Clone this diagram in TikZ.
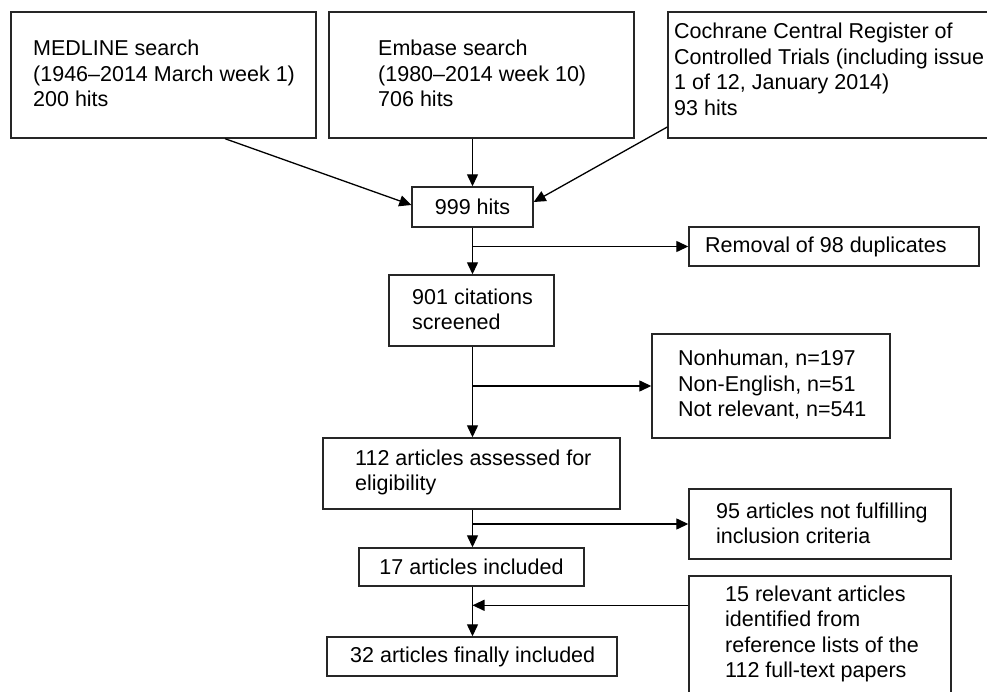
\documentclass[tikz,border=0pt]{standalone}
\usepackage{fontspec}
\setmainfont{Liberation Sans}
\usetikzlibrary{arrows.meta}
\begin{document}
\begin{tikzpicture}[x=1pt,y=-1pt,
  box/.style={draw=black!85, line width=1.4pt, inner sep=0pt, font=\fontsize{21.5}{25.5}\selectfont},
  txt/.style={font=\fontsize{21.5}{25.5}\selectfont, align=left, inner sep=0pt, anchor=west},
  arr/.style={line width=1.3pt, -{Triangle[length=12pt,width=11pt]}},
  ln/.style={line width=1.3pt}]
\useasboundingbox (0,0) rectangle (987,692);
\clip (0,0) rectangle (987,692);
\fill[white] (0,0) rectangle (987,692);

% top boxes
\node[box, minimum width=305pt, minimum height=126pt] (medline) at (163.5,75) {};
\node[txt] (medlinet) at (33,73.5) {MEDLINE search\\(1946–2014 March week 1)\\200 hits};
\node[box, minimum width=305pt, minimum height=126pt] (embase) at (481.5,75) {};
\node[txt] (embaset) at (378,73.5) {Embase search\\(1980–2014 week 10)\\706 hits};
\node[box, minimum width=332pt, minimum height=126pt] (cochrane) at (834,75) {};
\node[txt] (cochranet) at (674,69.5) {Cochrane Central Register of\\Controlled Trials (including issue\\1 of 12, January 2014)\\93 hits};

% main column
\node[box, minimum width=121pt, minimum height=40pt] (hits) at (472.5,207) {999 hits};
\node[box, minimum width=290pt, minimum height=39pt] (removal) at (834,246.5) {};
\node[txt] (removalt) at (705,246.5) {Removal of 98 duplicates};
\node[box, minimum width=165pt, minimum height=71pt] (screened) at (471.5,310.5) {};
\node[txt] (screenedt) at (412,309.5) {901 citations\\screened};
\node[box, minimum width=238pt, minimum height=104pt] (excl) at (771,386) {};
\node[txt] (exclt) at (678,385) {Nonhuman, n=197\\Non-English, n=51\\Not relevant, n=541};
\node[box, minimum width=297pt, minimum height=71pt] (assessed) at (471.5,473.5) {};
\node[txt] (assessedt) at (355,472.5) {112 articles assessed for\\eligibility};
\node[box, minimum width=262pt, minimum height=70pt] (notful) at (820,524) {};
\node[txt] (notfult) at (716,523.5) {95 articles not fulfilling\\inclusion criteria};
\node[box, minimum width=225pt, minimum height=38pt] (incl) at (471.5,567) {17 articles included};
\node[box, minimum width=262pt, minimum height=130pt] (refs) at (820,641) {};
\node[txt] (refst) at (725,634) {15 relevant articles\\identified from\\reference lists of the\\112 full-text papers};
\node[box, minimum width=290pt, minimum height=39pt] (final) at (472,656.5) {};
\node[txt] (finalt) at (350,656.5) {32 articles finally included};

% connectors
\draw[arr] ([xshift=61.5pt]medline.south) -- ([yshift=2pt]hits.west);
\draw[arr] (embase.south -| hits.north) -- (hits.north);
\draw[arr] ([yshift=-52pt]cochrane.west) -- ([yshift=5pt]hits.east);

\draw[arr] (hits.south) -- (hits.south |- screened.north);
\draw[arr] (hits.south |- removal.west) -- (removal.west);

\draw[arr] (hits.south |- screened.south) -- (hits.south |- assessed.north);
\draw[arr] (hits.south |- excl.west) -- (excl.west);

\draw[arr] (hits.south |- assessed.south) -- (hits.south |- incl.north);
\draw[arr] (hits.south |- notful.west) -- (notful.west);

\draw[arr] (hits.south |- incl.south) -- (hits.south |- final.north);
\coordinate (m15) at ([yshift=-30pt]refs.north west);
\draw[arr] (m15) -- (m15 -| hits.south);
\end{tikzpicture}
\end{document}
